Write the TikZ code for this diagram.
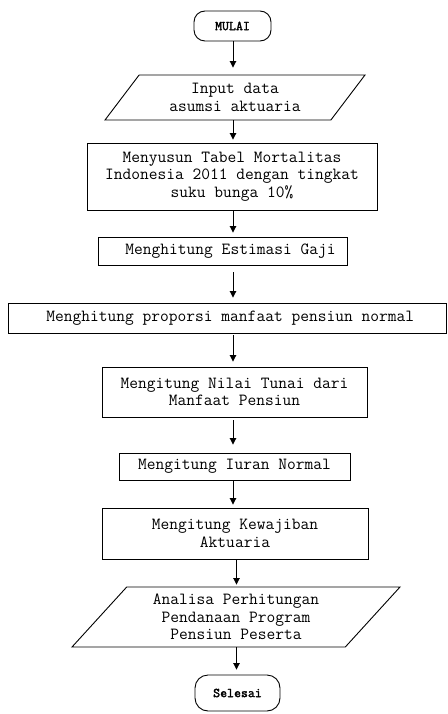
\documentclass[tikz,border=0pt]{standalone}
\usepackage{fontspec}
\newfontfamily\ttbold[FakeBold=2]{Latin Modern Mono}
\usetikzlibrary{arrows.meta,shapes.geometric}
\tikzset{
  base/.style={draw, line width=0.9pt, inner sep=2pt, align=center,
    font=\ttfamily\fontsize{17}{17.5}\selectfont},
  procbox/.style={base, rectangle},
  term/.style={base, rectangle, rounded corners=11pt,
    font=\ttbold\fontsize{13.5}{15}\selectfont},
  iobox/.style={base, trapezium, trapezium stretches body=true},
  arr/.style={line width=0.9pt, -{Triangle[length=6.5pt,width=6.5pt]}}
}
\begin{document}
\begin{tikzpicture}[x=1pt,y=-1pt]
\useasboundingbox (0,0) rectangle (447,714);
\coordinate (ax) at (233,0);
\coordinate (bx) at (236.5,0);

\node[term, minimum width=77pt, minimum height=30pt] (start) at (232.5,26) {MULAI};
\node[iobox, trapezium left angle=43.15, trapezium right angle=136.85,
      minimum width=260pt, minimum height=45pt] (in1) at (235,97.5)
      {Input data\\asumsi aktuaria};
\node[procbox, minimum width=290pt, minimum height=67pt] (b2) at (232,176.5)
      {Menyusun Tabel Mortalitas\\Indonesia 2011 dengan tingkat\\suku bunga 10\%};
\node[procbox, minimum width=249pt, minimum height=28pt] (b3) at (222.5,251)
      {\hspace*{16pt}Menghitung Estimasi Gaji};
\node[procbox, minimum width=438.5pt, minimum height=30pt] (b4) at (227.25,318)
      {\hspace*{6pt}Menghitung proporsi manfaat pensiun normal};
\node[procbox, minimum width=265pt, minimum height=50pt] (b5) at (234.5,392)
      {Mengitung Nilai Tunai dari\\Manfaat Pensiun};
\node[procbox, minimum width=231pt, minimum height=27pt] (b6) at (234.5,466.5)
      {Mengitung Iuran Normal};
\node[procbox, minimum width=266pt, minimum height=51pt] (b7) at (235,533.5)
      {Mengitung Kewajiban\\Aktuaria};
\node[iobox, trapezium left angle=42.27, trapezium right angle=137.73,
      minimum width=328pt, minimum height=60pt] (in2) at (236,617)
      {Analisa Perhitungan\\Pendanaan Program\\Pensiun Peserta};
\node[term, minimum width=85pt, minimum height=36pt, rounded corners=13pt] (stop) at (237.5,693) {Selesai};

\draw[arr, shorten >=7pt] (start.south -| ax) -- (in1.north -| ax);
\draw[arr, shorten >=3pt] (in1.south -| ax) -- (b2.north -| ax);
\draw[arr, shorten >=4pt] (b2.south -| ax) -- (b3.north -| ax);
\draw[arr, shorten <=7pt, shorten >=5pt] (b3.south -| ax) -- (b4.north -| ax);
\draw[arr, shorten <=2pt, shorten >=5pt] (b4.south -| ax) -- (b5.north -| ax);
\draw[arr, shorten <=3pt, shorten >=8pt] (b5.south -| ax) -- (b6.north -| ax);
\draw[arr, shorten >=3pt] (b6.south -| ax) -- (b7.north -| ax);
\draw[arr, shorten >=2pt] (b7.south -| bx) -- (in2.north -| bx);
\draw[arr, shorten >=5pt] (in2.south -| bx) -- (stop.north -| bx);
\end{tikzpicture}
\end{document}
